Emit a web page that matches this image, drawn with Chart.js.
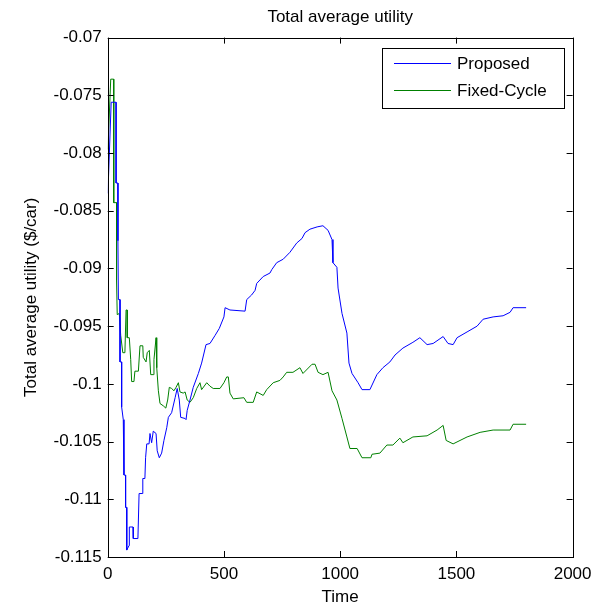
<!DOCTYPE html>
<html>
<head>
<meta charset="utf-8">
<title>Total average utility</title>
<script src="https://cdn.jsdelivr.net/npm/chart.js@4.4.1/dist/chart.umd.min.js"></script>
<style>
  html, body { margin: 0; padding: 0; background: #fff; }
  canvas { display: block; }
</style>
</head>
<body>
<canvas id="chart-utility" width="609" height="611"></canvas>
<script>
// values
const proposedTime = [1, 15, 36, 36, 44, 44, 46, 53, 53, 60, 60, 67, 70, 77, 77, 82, 82, 92, 93, 109,
  110, 130, 135, 148, 151, 160, 163, 168, 178, 182, 189, 196, 208, 213, 222, 232, 242, 254, 261, 275,
  290, 299, 308, 314, 333, 337, 342, 354, 368, 390, 404, 423, 440, 462, 480, 500, 505, 526, 591, 598,
  619, 634, 641, 669, 698, 706, 727, 755, 784, 813, 836, 849, 870, 901, 926, 948, 965, 969, 986, 991,
  1008, 1029, 1038, 1051, 1077, 1094, 1128, 1158, 1184, 1214, 1236, 1270, 1313, 1343, 1374, 1400, 1443, 1464, 1486, 1503,
  1546, 1589, 1615, 1658, 1701, 1731, 1744, 1800];
const proposedValue = [-0.0835, -0.0756, -0.0756, -0.0826, -0.0826, -0.0876, -0.0927, -0.0927, -0.0981, -0.0981,
  -0.1020, -0.1031, -0.1079, -0.1079, -0.1107, -0.1107, -0.1144, -0.1140, -0.1124, -0.1124,
  -0.1134, -0.1134, -0.1095, -0.1095, -0.1082, -0.1082, -0.1064, -0.1052, -0.1052, -0.1043,
  -0.1051, -0.1041, -0.1043, -0.1058, -0.1064, -0.1060, -0.1049, -0.1038, -0.1029, -0.1025,
  -0.1012, -0.1004, -0.1014, -0.1029, -0.1030, -0.1031, -0.1023, -0.1014, -0.1003, -0.0991,
  -0.0982, -0.0966, -0.0965, -0.0958, -0.0952, -0.0942, -0.0934, -0.0936, -0.0937, -0.0927,
  -0.0923, -0.0919, -0.0913, -0.0907, -0.0904, -0.0901, -0.0895, -0.0892, -0.0886, -0.0878,
  -0.0874, -0.0869, -0.0866, -0.0864, -0.0863, -0.0867, -0.0875, -0.0895, -0.0899, -0.0917,
  -0.0939, -0.0956, -0.0982, -0.0991, -0.0999, -0.1005, -0.1005, -0.0992, -0.0986, -0.0981,
  -0.0975, -0.0969, -0.0964, -0.0960, -0.0966, -0.0965, -0.0959, -0.0965, -0.0966, -0.0960,
  -0.0955, -0.0950, -0.0944, -0.0942, -0.0941, -0.0938, -0.0934, -0.0934];

const fixedTime = [1, 13, 26, 26, 38, 38, 41, 50, 56, 65, 74, 79, 84, 84, 93, 99, 103, 113, 117, 132,
  139, 151, 153, 165, 170, 179, 185, 196, 199, 208, 211, 218, 225, 239, 250, 258, 265, 275, 285, 294,
  304, 311, 325, 333, 342, 354, 368, 383, 397, 404, 426, 440, 454, 483, 500, 512, 519, 526, 540, 586,
  598, 626, 641, 669, 684, 712, 741, 755, 770, 797, 827, 840, 879, 892, 905, 926, 948, 965, 986, 1008,
  1029, 1042, 1073, 1094, 1132, 1137, 1171, 1201, 1227, 1257, 1270, 1313, 1374, 1417, 1443, 1456, 1486, 1546, 1602, 1658,
  1731, 1744, 1800];
const fixedValue = [-0.0797, -0.0736, -0.0736, -0.0843, -0.0843, -0.0910, -0.0940, -0.0939, -0.0958, -0.0973,
  -0.0973, -0.0936, -0.0936, -0.0960, -0.0960, -0.0979, -0.0998, -0.0998, -0.0989, -0.0989,
  -0.0967, -0.0967, -0.0977, -0.0981, -0.0973, -0.0971, -0.0992, -0.0992, -0.0979, -0.0960,
  -0.0986, -0.1006, -0.1017, -0.1019, -0.1021, -0.1014, -0.1003, -0.1004, -0.1006, -0.1003,
  -0.0999, -0.1007, -0.1008, -0.1007, -0.1014, -0.1016, -0.1012, -0.1004, -0.0999, -0.1005,
  -0.0999, -0.1002, -0.1004, -0.1004, -0.0999, -0.0994, -0.0994, -0.1008, -0.1013, -0.1012,
  -0.1016, -0.1016, -0.1007, -0.1010, -0.1005, -0.0999, -0.0997, -0.0994, -0.0990, -0.0990,
  -0.0986, -0.0991, -0.0983, -0.0983, -0.0990, -0.0992, -0.0990, -0.1006, -0.1014, -0.1030,
  -0.1046, -0.1056, -0.1056, -0.1064, -0.1064, -0.1061, -0.1060, -0.1053, -0.1053, -0.1047,
  -0.1051, -0.1046, -0.1045, -0.1040, -0.1036, -0.1049, -0.1052, -0.1046, -0.1042, -0.1040,
  -0.1040, -0.1035, -0.1035];

const xTickValues = [0, 500, 1000, 1500, 2000];
const xTickLabels = ['0', '500', '1000', '1500', '2000'];
const yTickValues = [-0.115, -0.11, -0.105, -0.1, -0.095, -0.09, -0.085, -0.08, -0.075, -0.07];
const yTickLabels = ['-0.115', '-0.11', '-0.105', '-0.1', '-0.095', '-0.09', '-0.085', '-0.08', '-0.075', '-0.07'];

const FONT = "'Liberation Sans', Arial, Helvetica, sans-serif";

function toPoints(xs, ys) {
  return xs.map((x, i) => ({ x: x, y: ys[i] }));
}

// matlab style frame: box, inward ticks, title, legend inside top right
const matlabFrame = {
  id: 'matlabFrame',
  afterDraw(chart) {
    const ctx = chart.ctx;
    const a = chart.chartArea;
    const xs = chart.scales.x;
    const ys = chart.scales.y;
    const tick = 6;
    ctx.save();
    ctx.strokeStyle = '#000';
    ctx.lineWidth = 1;
    ctx.strokeRect(Math.round(a.left) + 0.5, Math.round(a.top) + 0.5,
      Math.round(a.right - a.left), Math.round(a.bottom - a.top));
    ctx.beginPath();
    xs.ticks.forEach(t => {
      const px = Math.round(xs.getPixelForValue(t.value)) + 0.5;
      ctx.moveTo(px, a.bottom); ctx.lineTo(px, a.bottom - tick);
      ctx.moveTo(px, a.top); ctx.lineTo(px, a.top + tick);
    });
    ys.ticks.forEach(t => {
      const py = Math.round(ys.getPixelForValue(t.value)) + 0.5;
      ctx.moveTo(a.left, py); ctx.lineTo(a.left + tick, py);
      ctx.moveTo(a.right, py); ctx.lineTo(a.right - tick, py);
    });
    ctx.stroke();

    // title
    ctx.fillStyle = '#000';
    ctx.font = '17px ' + FONT;
    ctx.textAlign = 'center';
    ctx.textBaseline = 'middle';
    ctx.fillText('Total average utility', (a.left + a.right) / 2, 17);

    // legend
    const lx = 382.5, ly = 48.5, lw = 182, lh = 60;
    ctx.fillStyle = '#fff';
    ctx.fillRect(lx, ly, lw, lh);
    ctx.strokeRect(lx, ly, lw, lh);
    const rows = [63.5, 90.5];
    ctx.textAlign = 'left';
    chart.data.datasets.forEach((ds, i) => {
      ctx.strokeStyle = ds.borderColor;
      ctx.beginPath();
      ctx.moveTo(394, rows[i]);
      ctx.lineTo(451, rows[i]);
      ctx.stroke();
      ctx.fillStyle = '#000';
      ctx.fillText(ds.label, 457, rows[i] + 0.5);
    });
    ctx.restore();
  }
};

new Chart(document.getElementById('chart-utility'), {
  type: 'line',
  data: {
    datasets: [{
      label: 'Proposed',
      data: toPoints(proposedTime, proposedValue),
      borderColor: '#0000ff',
      borderWidth: 1,
      pointRadius: 0,
      tension: 0
    }, {
      label: 'Fixed-Cycle',
      data: toPoints(fixedTime, fixedValue),
      borderColor: '#008000',
      borderWidth: 1,
      pointRadius: 0,
      tension: 0
    }]
  },
  options: {
    responsive: false,
    animation: false,
    layout: { padding: { left: 0, right: 36.4, top: 37.6, bottom: 0 } },
    plugins: {
      legend: { display: false },
      title: { display: false },
      tooltip: { enabled: false }
    },
    scales: {
      x: {
        type: 'linear',
        min: 0,
        max: 2000,
        afterFit: s => { s.height = 54; },
        afterBuildTicks: s => { s.ticks = xTickValues.map(v => ({ value: v })); },
        grid: { display: false, drawTicks: false },
        border: { display: false },
        ticks: {
          color: '#000',
          padding: 7,
          maxRotation: 0,
          font: { family: FONT, size: 17 },
          callback: (v, i) => xTickLabels[i]
        },
        title: {
          display: true,
          text: 'Time',
          color: '#000',
          font: { family: FONT, size: 17 },
          padding: { top: 0, bottom: 3 }
        }
      },
      y: {
        type: 'linear',
        min: -0.115,
        max: -0.07,
        afterFit: s => { s.width = 107.7; },
        afterBuildTicks: s => { s.ticks = yTickValues.map(v => ({ value: v })); },
        grid: { display: false, drawTicks: false },
        border: { display: false },
        ticks: {
          color: '#000',
          padding: 6,
          font: { family: FONT, size: 17 },
          callback: (v, i) => yTickLabels[i]
        },
        title: {
          display: true,
          text: 'Total average utility ($/car)',
          color: '#000',
          font: { family: FONT, size: 17 },
          padding: { top: 21, bottom: 0 }
        }
      }
    }
  },
  plugins: [matlabFrame]
});
</script>
</body>
</html>
